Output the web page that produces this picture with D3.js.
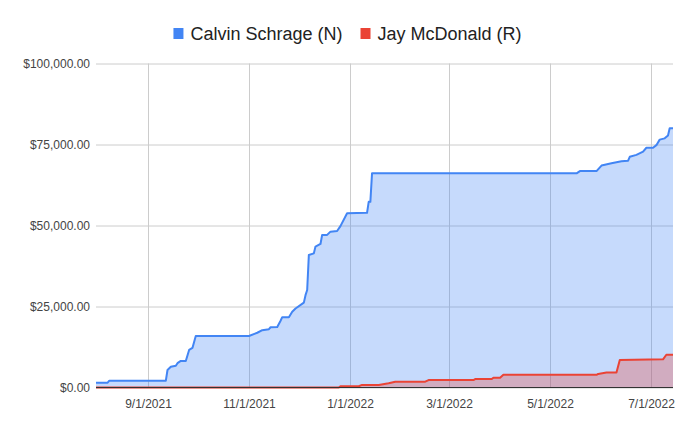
<!DOCTYPE html>
<html>
<head>
<meta charset="utf-8">
<title>Calvin Schrage vs Jay McDonald</title>
<style>
  body { margin: 0; background: #fff; }
  svg { display: block; font-family: Arial, "Liberation Sans", sans-serif; }
</style>
</head>
<body>
<script src="https://cdn.jsdelivr.net/npm/d3@7"></script>
<script>
// series names + colours (google sheets defaults)
var seriesNames = ["Calvin Schrage (N)", "Jay McDonald (R)"];
var seriesColors = ["#4285f4", "#ea4335"];

// cumulative money raised
var calvinDates = ["2021-08-01", "2021-08-08", "2021-08-09", "2021-09-12", "2021-09-13", "2021-09-15",
  "2021-09-18", "2021-09-19", "2021-09-21", "2021-09-24", "2021-09-26", "2021-09-28", "2021-09-30",
  "2021-11-01", "2021-11-06", "2021-11-09", "2021-11-13", "2021-11-14", "2021-11-18", "2021-11-20",
  "2021-11-21", "2021-11-25", "2021-11-27", "2021-11-29", "2021-12-04", "2021-12-05", "2021-12-06",
  "2021-12-07", "2021-12-10", "2021-12-11", "2021-12-14", "2021-12-15", "2021-12-18", "2021-12-20",
  "2021-12-24", "2021-12-26", "2021-12-30", "2022-01-11", "2022-01-12", "2022-01-13", "2022-01-14",
  "2022-05-17", "2022-05-19", "2022-05-29", "2022-06-01", "2022-06-07", "2022-06-13", "2022-06-17",
  "2022-06-18", "2022-06-22", "2022-06-26", "2022-06-28", "2022-07-02", "2022-07-04", "2022-07-06",
  "2022-07-09", "2022-07-11", "2022-07-12", "2022-07-14"];
var calvinValues = [1500, 1500, 2100, 2100, 5400, 6400,
  6700, 7500, 8200, 8200, 11600, 12200, 15900,
  15900, 16900, 17700, 18000, 18600, 18700, 20600,
  21700, 21700, 23400, 24400, 26200, 28500, 30100,
  40900, 41400, 43500, 44300, 47100, 47100, 48100,
  48300, 49800, 53800, 53900, 57300, 57300, 66100,
  66100, 66800, 66800, 68500, 69200, 69800, 70000,
  71200, 71800, 72800, 74000, 74000, 74800, 76500,
  76900, 77800, 80000, 80000];

var jayDates = ["2021-08-01", "2021-12-25", "2021-12-26", "2022-01-06", "2022-01-08", "2022-01-18",
  "2022-01-24", "2022-01-28", "2022-02-15", "2022-02-17", "2022-03-16", "2022-03-17", "2022-03-27",
  "2022-03-28", "2022-04-01", "2022-04-03", "2022-05-29", "2022-05-30", "2022-06-04", "2022-06-10",
  "2022-06-12", "2022-07-08", "2022-07-10", "2022-07-14"];
var jayValues = [0, 0, 400, 400, 800, 800,
  1300, 1800, 1800, 2300, 2300, 2600, 2600,
  3000, 3000, 3900, 3900, 4200, 4600, 4600,
  8500, 8700, 10100, 10100];

// axis ticks
var yTicks = [0, 25000, 50000, 75000, 100000];
var xTickLabels = ["9/1/2021", "11/1/2021", "1/1/2022", "3/1/2022", "5/1/2022", "7/1/2022"];

var width = 695, height = 430;
var plotLeft = 96, plotRight = 673, plotTop = 63.5, plotBottom = 387.5;

var parseIso = d3.timeParse("%Y-%m-%d");
var parseUs = d3.timeParse("%-m/%-d/%Y");

function toPoints(dates, values) {
  return dates.map(function (d, i) { return { date: parseIso(d), value: values[i] }; });
}
var series = [toPoints(calvinDates, calvinValues), toPoints(jayDates, jayValues)];

var svg = d3.select("body").append("svg")
  .attr("width", width)
  .attr("height", height);

svg.append("rect").attr("width", width).attr("height", height).attr("fill", "#fff");

var x = d3.scaleTime()
  .domain([parseIso("2021-08-01"), parseIso("2022-07-14")])
  .range([plotLeft, plotRight]);

var y = d3.scaleLinear()
  .domain([0, 100000])
  .range([plotBottom, plotTop]);

// y axis + horizontal grid
var yAxis = svg.append("g")
  .attr("transform", "translate(" + plotLeft + ",0)")
  .call(d3.axisLeft(y)
    .tickValues(yTicks)
    .tickSize(-(plotRight - plotLeft))
    .tickPadding(6)
    .tickFormat(function (d) { return "$" + d3.format(",.2f")(d); }));
yAxis.select(".domain").remove();
yAxis.selectAll("line").attr("stroke", "#cccccc");
yAxis.selectAll("text").attr("fill", "#444").style("font-size", "12px");

// x axis + vertical grid
var xTickDates = xTickLabels.map(parseUs);
var xAxis = svg.append("g")
  .attr("transform", "translate(0," + plotBottom + ")")
  .call(d3.axisBottom(x)
    .tickValues(xTickDates)
    .tickSize(-(plotBottom - plotTop))
    .tickPadding(12)
    .tickFormat(function (d, i) { return xTickLabels[i]; }));
xAxis.select(".domain").remove();
xAxis.selectAll(".tick").attr("transform", function (d) {
  return "translate(" + (Math.round(x(d)) + 0.5) + ",0)";
});
xAxis.selectAll("line").attr("stroke", "#cccccc");
xAxis.selectAll("text").attr("fill", "#444").style("font-size", "12px");

// areas (not stacked, both from zero)
var area = d3.area()
  .x(function (d) { return x(d.date); })
  .y0(y(0))
  .y1(function (d) { return y(d.value); });

var line = d3.line()
  .x(function (d) { return x(d.date); })
  .y(function (d) { return y(d.value); });

series.forEach(function (s, i) {
  svg.append("path")
    .datum(s)
    .attr("d", area)
    .attr("fill", seriesColors[i])
    .attr("fill-opacity", 0.3);
});
series.forEach(function (s, i) {
  svg.append("path")
    .datum(s)
    .attr("d", line)
    .attr("fill", "none")
    .attr("stroke", seriesColors[i])
    .attr("stroke-width", 2)
    .attr("stroke-linejoin", "round");
});

// baseline
svg.append("line")
  .attr("x1", plotLeft).attr("x2", plotRight)
  .attr("y1", plotBottom).attr("y2", plotBottom)
  .attr("stroke", "#333")
  .attr("stroke-width", 1);

// legend, centred at top
var legend = svg.append("g");
var lx = 0;
seriesNames.forEach(function (name, i) {
  var g = legend.append("g").attr("transform", "translate(" + lx + ",0)");
  g.append("rect")
    .attr("x", 0).attr("y", 28)
    .attr("width", 10).attr("height", 11)
    .attr("fill", seriesColors[i]);
  var t = g.append("text")
    .attr("x", 17).attr("y", 40)
    .attr("fill", "#222")
    .style("font-size", "18px")
    .text(name);
  lx += 17 + t.node().getComputedTextLength() + 18;
});
var legendWidth = lx - 18;
legend.attr("transform", "translate(" + ((width - legendWidth) / 2) + ",0)");
</script>
</body>
</html>
